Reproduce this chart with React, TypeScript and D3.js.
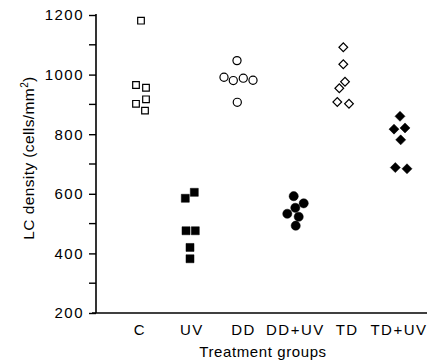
import React, { useEffect, useRef } from 'react';
import * as d3 from 'd3';

const categories = ['C', 'UV', 'DD', 'DD+UV', 'TD', 'TD+UV'];

// LC density per animal
const valuesC = [1181, 965, 956, 917, 902, 879];
const valuesUV = [605, 585, 476, 476, 420, 382];
const valuesDD = [1047, 991, 980, 988, 981, 907];
const valuesDDUV = [592, 568, 553, 533, 523, 493];
const valuesTD = [1092, 1035, 976, 954, 908, 902];
const valuesTDUV = [860, 817, 821, 781, 688, 684];

// horizontal scatter of each point around its group (px)
const jitterC = [1, -4, 6, 6, -4, 5];
const jitterUV = [2.5, -6.5, -5.8, 3.5, -1.8, -1.8];
const jitterDD = [-6.6, -19.6, -10.3, -0.3, 9.4, -6.3];
const jitterDDUV = [-1.7, 8.3, -0.1, -8.1, 3.3, 0.3];
const jitterTD = [-3.9, -3.9, -2.2, -7.9, -9.9, 1.8];
const jitterTDUV = [1, -5, 6, 1.7, -3.7, 8];

const majorTicks = [200, 400, 600, 800, 1000, 1200];
const minorTicks = [300, 500, 700, 900, 1100];

type Group = {
  name: string;
  values: number[];
  jitter: number[];
  shape: 'square' | 'circle' | 'diamond';
  filled: boolean;
};

const groups: Group[] = [
  { name: 'C', values: valuesC, jitter: jitterC, shape: 'square', filled: false },
  { name: 'UV', values: valuesUV, jitter: jitterUV, shape: 'square', filled: true },
  { name: 'DD', values: valuesDD, jitter: jitterDD, shape: 'circle', filled: false },
  { name: 'DD+UV', values: valuesDDUV, jitter: jitterDDUV, shape: 'circle', filled: true },
  { name: 'TD', values: valuesTD, jitter: jitterTD, shape: 'diamond', filled: false },
  { name: 'TD+UV', values: valuesTDUV, jitter: jitterTDUV, shape: 'diamond', filled: true },
];

const FONT = '"Liberation Sans", Arial, Helvetica, sans-serif';

export default function App() {
  const svgRef = useRef<SVGSVGElement>(null);

  useEffect(() => {
    if (!svgRef.current) return;
    const svg = d3.select(svgRef.current);
    svg.selectAll('*').remove();

    const width = 433;
    const height = 364;
    const axisX = 96;
    const axisBottom = 313;
    const axisTop = 15;
    const axisRight = 427;

    const yScale = d3.scaleLinear().domain([200, 1200]).range([axisBottom, axisTop]);
    const xScale = d3.scalePoint<string>().domain(categories).range([140, 399]);

    svg.attr('width', width).attr('height', height);

    svg.append('rect').attr('width', width).attr('height', height).attr('fill', '#fff');

    // Y axis
    const yAxis = d3.axisLeft(yScale)
      .tickValues(majorTicks)
      .tickSize(7)
      .tickPadding(5)
      .tickFormat(d => String(d));

    svg.append('g')
      .attr('transform', `translate(${axisX},0)`)
      .call(yAxis)
      .call(g => g.select('.domain').attr('stroke', '#000').attr('stroke-width', 1.6)
        .attr('d', `M0,${axisTop - 1}V${axisBottom}`))
      .call(g => g.selectAll('.tick line').attr('stroke', '#000').attr('stroke-width', 1.4))
      .call(g => g.selectAll('.tick text')
        .attr('fill', '#000')
        .attr('font-family', FONT)
        .attr('font-size', '15px')
        .attr('letter-spacing', '1.5px'));

    // minor ticks
    svg.append('g')
      .selectAll('line')
      .data(minorTicks)
      .enter()
      .append('line')
      .attr('x1', axisX - 7)
      .attr('x2', axisX)
      .attr('y1', d => yScale(d))
      .attr('y2', d => yScale(d))
      .attr('stroke', '#000')
      .attr('stroke-width', 1.4);

    // X axis baseline
    svg.append('line')
      .attr('x1', axisX - 4)
      .attr('x2', axisRight)
      .attr('y1', axisBottom)
      .attr('y2', axisBottom)
      .attr('stroke', '#000')
      .attr('stroke-width', 1.6);

    // category labels
    svg.append('g')
      .selectAll('text')
      .data(categories)
      .enter()
      .append('text')
      .attr('x', d => xScale(d) ?? 0)
      .attr('y', 335)
      .attr('text-anchor', 'middle')
      .attr('font-family', FONT)
      .attr('font-size', '15px')
      .attr('letter-spacing', '1.5px')
      .attr('fill', '#000')
      .text(d => d);

    svg.append('text')
      .attr('x', 263)
      .attr('y', 357)
      .attr('text-anchor', 'middle')
      .attr('font-family', FONT)
      .attr('font-size', '15px')
      .attr('letter-spacing', '0.6px')
      .attr('fill', '#000')
      .text('Treatment groups');

    const yLabel = svg.append('text')
      .attr('transform', `translate(34,${(axisTop + axisBottom) / 2 - 6}) rotate(-90)`)
      .attr('text-anchor', 'middle')
      .attr('font-family', FONT)
      .attr('font-size', '15.5px')
      .attr('letter-spacing', '0.4px')
      .attr('fill', '#000');
    yLabel.append('tspan').text('LC density (cells/mm');
    yLabel.append('tspan').attr('dy', -6).attr('font-size', '10px').text('2');
    yLabel.append('tspan').attr('dy', 6).text(')');

    // points
    const symbolFor = (g: Group) => {
      if (g.shape === 'circle') return d3.symbol(d3.symbolCircle, g.filled ? 66 : 52)();
      if (g.shape === 'square') return d3.symbol(d3.symbolSquare, g.filled ? 64 : 44)();
      return d3.symbol(d3.symbolSquare, g.filled ? 50 : 38)();
    };

    groups.forEach(g => {
      const cx = xScale(g.name) ?? 0;
      svg.append('g')
        .selectAll('path')
        .data(g.values.map((v, i) => ({ v, j: g.jitter[i] })))
        .enter()
        .append('path')
        .attr('d', symbolFor(g))
        .attr('transform', d =>
          `translate(${cx + d.j},${yScale(d.v)})${g.shape === 'diamond' ? ' rotate(45)' : ''}`)
        .attr('fill', g.filled ? '#000' : '#fff')
        .attr('stroke', '#000')
        .attr('stroke-width', g.filled ? 0.5 : 1.2);
    });
  }, []);

  return (
    <svg
      ref={svgRef}
      style={{ position: 'absolute', left: 0, top: 0, display: 'block' }}
    />
  );
}
